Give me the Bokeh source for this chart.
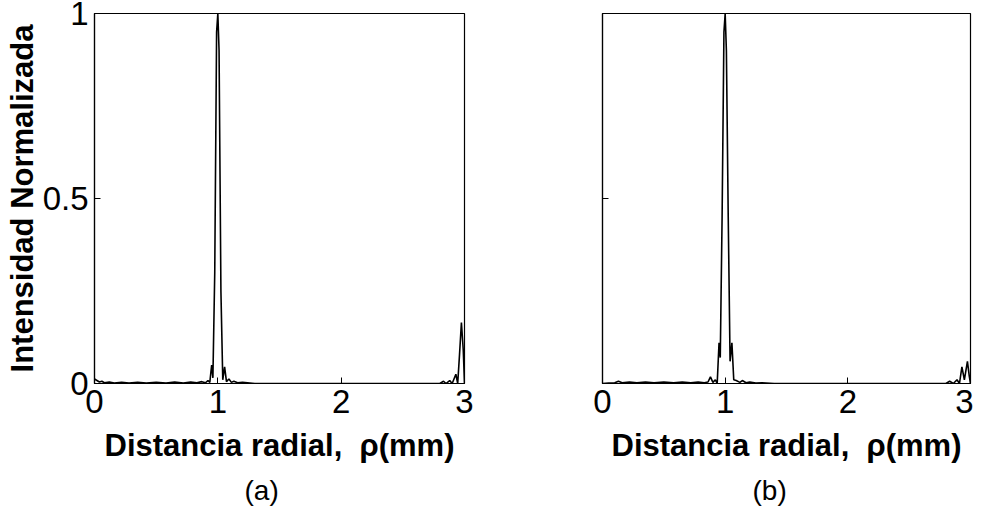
from bokeh.plotting import figure
from bokeh.layouts import row
from bokeh.models import Range1d, FixedTicker, Title
from bokeh.embed import file_html
from bokeh.resources import INLINE

# Panel (a) data: radial distance (mm) and normalized intensity
rho_a = [0.00, 0.02, 0.04, 0.06, 0.08, 0.12, 0.16, 0.22, 0.28, 0.35, 0.42, 0.50,
         0.58, 0.65, 0.72, 0.78, 0.83, 0.87, 0.90, 0.92, 0.935, 0.95, 0.96, 0.975,
         0.99, 1.00, 1.01, 1.025, 1.04, 1.055, 1.07, 1.09, 1.11, 1.13, 1.16, 1.20,
         1.30, 1.60, 2.00, 2.40, 2.80, 2.83, 2.85, 2.88, 2.90, 2.93, 2.945, 2.96,
         2.975, 2.99, 3.00]
int_a = [0.012, 0.008, 0.004, 0.006, 0.002, 0.004, 0.001, 0.003, 0.001, 0.003, 0.001, 0.003,
         0.001, 0.004, 0.001, 0.004, 0.002, 0.005, 0.002, 0.008, 0.003, 0.050, 0.015, 0.300,
         0.950, 1.000, 0.900, 0.250, 0.010, 0.045, 0.005, 0.012, 0.003, 0.006, 0.002, 0.003,
         0.000, 0.000, 0.000, 0.000, 0.000, 0.006, 0.000, 0.008, 0.000, 0.025, 0.000, 0.080,
         0.165, 0.090, 0.000]

# Panel (b) data
rho_b = [0.00, 0.05, 0.10, 0.13, 0.16, 0.22, 0.28, 0.35, 0.42, 0.50, 0.58, 0.65,
         0.72, 0.78, 0.83, 0.86, 0.88, 0.90, 0.92, 0.935, 0.95, 0.96, 0.975, 0.99,
         1.00, 1.01, 1.025, 1.04, 1.055, 1.07, 1.09, 1.12, 1.14, 1.17, 1.20, 1.25,
         1.30, 1.40, 1.80, 2.20, 2.60, 2.80, 2.83, 2.86, 2.89, 2.91, 2.93, 2.95,
         2.975, 2.99, 3.00]
int_b = [0.000, 0.001, 0.002, 0.006, 0.002, 0.004, 0.002, 0.004, 0.002, 0.004, 0.002, 0.004,
         0.002, 0.004, 0.002, 0.004, 0.018, 0.003, 0.010, 0.000, 0.110, 0.070, 0.450, 0.950,
         1.000, 0.900, 0.450, 0.060, 0.110, 0.010, 0.008, 0.003, 0.008, 0.002, 0.004, 0.001,
         0.002, 0.000, 0.000, 0.000, 0.000, 0.000, 0.006, 0.000, 0.010, 0.000, 0.045, 0.010,
         0.060, 0.020, 0.000]

x_ticks = [0, 1, 2, 3]
y_ticks = [0, 0.5, 1]
x_label = "Distancia radial,\u00a0 \u03c1(mm)"
y_label = "Intensidad Normalizada"
captions = ["(a)", "(b)"]

FONT = "Liberation Sans"


def make_panel(xs, ys, caption, left, right, fw, show_y):
    p = figure(width=left + fw + right, height=515, output_backend="svg",
               toolbar_location=None, x_range=Range1d(0, 3), y_range=Range1d(0, 1),
               min_border_left=left, min_border_right=right,
               min_border_top=13, min_border_bottom=132)
    p.frame_width = fw
    p.frame_height = 370
    p.line(xs, ys, line_color="black", line_width=1.6)
    p.grid.visible = False
    p.outline_line_color = "black"
    p.outline_line_width = 1.2
    p.background_fill_color = "white"
    p.border_fill_color = "white"

    for ax in (p.xaxis[0], p.yaxis[0]):
        ax.axis_line_color = "black"
        ax.axis_line_width = 1.2
        ax.major_tick_in = 6
        ax.major_tick_out = 0
        ax.minor_tick_line_color = None
        ax.major_label_text_font = FONT
        ax.major_label_text_font_size = "33px"
        ax.major_label_text_color = "black"
        ax.axis_label_text_font = FONT
        ax.axis_label_text_font_style = "bold"
        ax.axis_label_text_color = "black"

    p.xaxis.ticker = FixedTicker(ticks=x_ticks)
    p.xaxis.major_label_standoff = 6
    p.xaxis.axis_label = x_label
    p.xaxis.axis_label_text_font_size = "31px"
    p.xaxis.axis_label_standoff = 12

    p.yaxis.ticker = FixedTicker(ticks=y_ticks)
    if show_y:
        p.yaxis.major_label_overrides = {0: "0", 0.5: "0.5", 1: "1"}
        p.yaxis.major_label_standoff = 6
        p.yaxis.axis_label = y_label
        p.yaxis.axis_label_text_font_size = "31px"
        p.yaxis.axis_label_standoff = 0
    else:
        p.yaxis.major_label_text_alpha = 0

    p.add_layout(Title(text=caption, align="left", offset=150, text_font=FONT,
                       text_font_size="28px", text_font_style="normal",
                       text_color="black", standoff=14), "below")
    return p


pa = make_panel(rho_a, int_a, captions[0], 94, 73, 370, True)
pb = make_panel(rho_b, int_b, captions[1], 65, 3, 368, False)

layout = row(pa, pb)
open("out.html", "w").write(file_html(layout, INLINE))
